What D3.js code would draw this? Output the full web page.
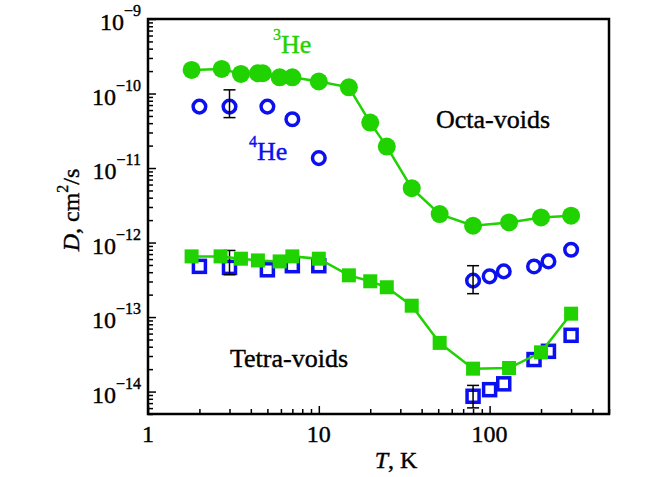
<!DOCTYPE html>
<html>
<head>
<meta charset="utf-8">
<script src="https://cdn.jsdelivr.net/npm/d3@7"></script>
<style>
  body { margin: 0; background: #fff; }
  svg text { font-family: "Liberation Serif", "Times New Roman", serif; stroke-width: 0.4px; }
</style>
</head>
<body>
<div id="chart"></div>
<script>
const width = 645;
const height = 477;
const margin = { top: 19, right: 36, bottom: 63, left: 148 };

// 3He, octa-voids (filled green circles)
const T3_octa = [1.8, 2.7, 3.5, 4.4, 4.7, 5.9, 7.0, 10, 15, 20, 25, 35, 51, 80, 130, 200, 300];
const D3_octa = [2.07e-10, 2.14e-10, 1.83e-10, 1.87e-10, 1.87e-10, 1.65e-10, 1.65e-10, 1.45e-10, 1.21e-10,
  4.07e-11, 1.94e-11, 5.37e-12, 2.41e-12, 1.68e-12, 1.86e-12, 2.17e-12, 2.29e-12];
// 4He, octa-voids (open blue circles)
const T4_octa = [2, 3, 5, 7, 10, 80, 100, 121, 182, 221, 300];
const D4_octa = [6.67e-11, 6.67e-11, 6.67e-11, 4.52e-11, 1.36e-11, 3.08e-13, 3.52e-13, 4.1e-13, 4.78e-13, 5.58e-13, 8.0e-13];
// 3He, tetra-voids (filled green squares)
const T3_tetra = [1.8, 2.66, 3.5, 4.4, 5.9, 7.0, 10, 15, 20, 25, 35, 51, 80, 130, 200, 300];
const D3_tetra = [6.52e-13, 6.52e-13, 6.07e-13, 5.75e-13, 5.58e-13, 6.52e-13, 6.07e-13, 3.63e-13, 3.02e-13,
  2.51e-13, 1.42e-13, 4.5e-14, 2.03e-14, 2.07e-14, 3.36e-14, 1.11e-13];
// 4He, tetra-voids (open blue squares)
const T4_tetra = [2, 3, 5, 7, 10, 80, 100, 121, 182, 221, 300];
const D4_tetra = [4.79e-13, 4.64e-13, 4.31e-13, 4.89e-13, 4.89e-13, 8.65e-15, 1.06e-14, 1.27e-14, 2.69e-14, 3.47e-14, 5.69e-14];

// error bars: T, low, high
const errT = [3, 80, 3, 80];
const errLo = [4.75e-11, 2.06e-13, 3.7e-13, 6.04e-15];
const errHi = [1.12e-10, 4.89e-13, 7.83e-13, 1.21e-14];

const xMajor = [1, 10, 100];
const xLabels = ["1", "10", "100"];
const yExp = [-9, -10, -11, -12, -13, -14];

const green = "#1fd200";
const blue = "#0c10ee";

const svg = d3.select("#chart").append("svg")
  .attr("width", width)
  .attr("height", height);

const x = d3.scaleLog().domain([1, 500]).range([margin.left, width - margin.right]);
const y = d3.scaleLog().domain([5e-15, 1e-9]).range([height - margin.bottom, margin.top]);

//minor tick values
const xMinor = [];
[1, 10, 100].forEach(p => { for (let k = 2; k <= 9; k++) if (k * p <= 500) xMinor.push(k * p); });
const yMinor = [];
for (let e = -15; e <= -10; e++) for (let k = 2; k <= 9; k++) {
  const v = k * Math.pow(10, e);
  if (v >= 5e-15 && v <= 1e-9) yMinor.push(v);
}

//axes (ticks inward, labels drawn separately)
const xAx = svg.append("g")
  .attr("transform", "translate(0," + (height - margin.bottom) + ")");
xAx.append("g").call(d3.axisTop(x).tickValues(xMajor).tickSize(8).tickFormat(""));
xAx.append("g").call(d3.axisTop(x).tickValues(xMinor).tickSize(5).tickFormat(""));
const yAx = svg.append("g")
  .attr("transform", "translate(" + margin.left + ",0)");
yAx.append("g").call(d3.axisRight(y).tickValues(yExp.map(e => Math.pow(10, e))).tickSize(8).tickFormat(""));
yAx.append("g").call(d3.axisRight(y).tickValues(yMinor).tickSize(5).tickFormat(""));
svg.selectAll(".domain").remove();
svg.selectAll(".tick line").attr("stroke", "#000").attr("stroke-width", 1.5);

//frame
svg.append("rect")
  .attr("x", margin.left)
  .attr("y", margin.top)
  .attr("width", width - margin.left - margin.right)
  .attr("height", height - margin.top - margin.bottom)
  .attr("fill", "none")
  .attr("stroke", "#000")
  .attr("stroke-width", 2.5);

//tick labels
svg.selectAll(".xlab")
  .data(xMajor)
  .enter().append("text")
  .attr("class", "xlab")
  .attr("x", d => x(d))
  .attr("y", 442)
  .attr("text-anchor", "middle")
  .attr("stroke", "#000")
  .style("font-size", "24px")
  .text((d, i) => xLabels[i]);

const yl = svg.selectAll(".ylab")
  .data(yExp)
  .enter().append("text")
  .attr("class", "ylab")
  .attr("x", 141)
  .attr("y", d => y(Math.pow(10, d)) + 11)
  .attr("text-anchor", "end")
  .attr("stroke", "#000")
  .style("font-size", "24px");
yl.append("tspan").text("10");
yl.append("tspan").attr("dy", -14).style("font-size", "16px").text(d => "\u2212" + Math.abs(d));

//axis titles
const xt = svg.append("text")
  .attr("x", 396)
  .attr("y", 468)
  .attr("text-anchor", "middle")
  .attr("stroke", "#000")
  .style("font-size", "24px");
xt.append("tspan").style("font-style", "italic").text("T");
xt.append("tspan").text(", K");

const yt = svg.append("text")
  .attr("transform", "translate(79,210) rotate(-90)")
  .attr("text-anchor", "middle")
  .attr("stroke", "#000")
  .style("font-size", "24px");
yt.append("tspan").style("font-style", "italic").text("D");
yt.append("tspan").text(", cm");
yt.append("tspan").attr("dy", -11).style("font-size", "16px").text("2");
yt.append("tspan").attr("dy", 11).text("/s");

//blue 4He markers
svg.selectAll(".c4")
  .data(T4_octa)
  .enter().append("circle")
  .attr("cx", d => x(d))
  .attr("cy", (d, i) => y(D4_octa[i]))
  .attr("r", 6.3)
  .attr("fill", "none")
  .attr("stroke", blue)
  .attr("stroke-width", 3.5);

svg.selectAll(".s4")
  .data(T4_tetra)
  .enter().append("rect")
  .attr("x", d => x(d) - 6)
  .attr("y", (d, i) => y(D4_tetra[i]) - 6)
  .attr("width", 12)
  .attr("height", 12)
  .attr("fill", "none")
  .attr("stroke", blue)
  .attr("stroke-width", 3.5);

//error bars
const eb = svg.selectAll(".err")
  .data(errT)
  .enter().append("g")
  .attr("stroke", "#000")
  .attr("stroke-width", 1.5);
eb.append("line")
  .attr("x1", d => x(d)).attr("x2", d => x(d))
  .attr("y1", (d, i) => y(errLo[i])).attr("y2", (d, i) => y(errHi[i]));
eb.append("line")
  .attr("x1", d => x(d) - 6).attr("x2", d => x(d) + 6)
  .attr("y1", (d, i) => y(errLo[i])).attr("y2", (d, i) => y(errLo[i]));
eb.append("line")
  .attr("x1", d => x(d) - 6).attr("x2", d => x(d) + 6)
  .attr("y1", (d, i) => y(errHi[i])).attr("y2", (d, i) => y(errHi[i]));

//green 3He lines + markers
const line = d3.line().x(d => x(d[0])).y(d => y(d[1]));
svg.append("path")
  .datum(T3_octa.map((t, i) => [t, D3_octa[i]]))
  .attr("d", line)
  .attr("fill", "none")
  .attr("stroke", green)
  .attr("stroke-width", 2.5);
svg.append("path")
  .datum(T3_tetra.map((t, i) => [t, D3_tetra[i]]))
  .attr("d", line)
  .attr("fill", "none")
  .attr("stroke", green)
  .attr("stroke-width", 2.5);

svg.selectAll(".c3")
  .data(T3_octa)
  .enter().append("circle")
  .attr("cx", d => x(d))
  .attr("cy", (d, i) => y(D3_octa[i]))
  .attr("r", 9)
  .attr("fill", green);

svg.selectAll(".s3")
  .data(T3_tetra)
  .enter().append("rect")
  .attr("x", d => x(d) - 7)
  .attr("y", (d, i) => y(D3_tetra[i]) - 7)
  .attr("width", 14)
  .attr("height", 14)
  .attr("fill", green);

//annotations
const he3 = svg.append("text")
  .attr("x", 273)
  .attr("y", 53)
  .attr("fill", green)
  .attr("stroke", green)
  .style("font-size", "26px");
he3.append("tspan").attr("dy", -13).style("font-size", "16px").text("3");
he3.append("tspan").attr("dy", 13).text("He");

const he4 = svg.append("text")
  .attr("x", 249)
  .attr("y", 160)
  .attr("fill", blue)
  .attr("stroke", blue)
  .style("font-size", "26px");
he4.append("tspan").attr("dy", -13).style("font-size", "16px").text("4");
he4.append("tspan").attr("dy", 13).text("He");

svg.append("text")
  .attr("x", 436)
  .attr("y", 128)
  .attr("stroke", "#000")
  .style("font-size", "26px")
  .text("Octa-voids");

svg.append("text")
  .attr("x", 230)
  .attr("y", 367)
  .attr("stroke", "#000")
  .style("font-size", "26px")
  .text("Tetra-voids");
</script>
</body>
</html>
